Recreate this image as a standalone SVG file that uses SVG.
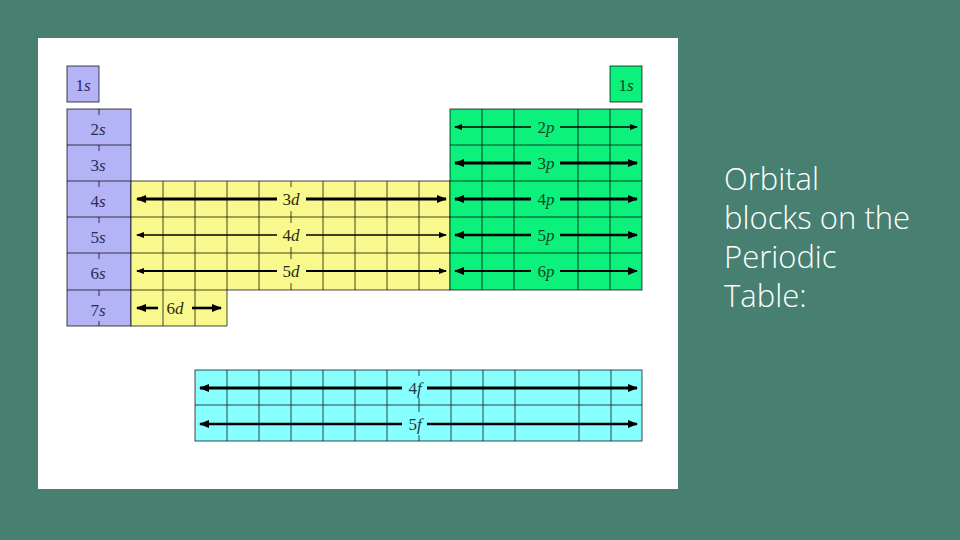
<svg xmlns="http://www.w3.org/2000/svg" width="960" height="540" viewBox="0 0 960 540">
<defs>
<style>
.grid{stroke:#000;stroke-opacity:0.72;stroke-width:1;fill:none}
.ar{stroke:#000;fill:none}
.lbl{font-family:"Liberation Serif",serif;font-size:17px;text-anchor:middle}
.lbl tspan.i{font-style:italic}
.sl{fill:#2c2c5c}
.dl{fill:#2a2a10}
.pl{fill:#0b4a22}
.fl{fill:#1c3a44}
.title{font-family:"Open Sans","Liberation Sans",sans-serif;font-size:31px;fill:#ffffff;font-weight:300}
</style>
<marker id="hb" markerUnits="userSpaceOnUse" markerWidth="10" markerHeight="8" refX="9" refY="4" orient="auto"><path d="M0,0 L10,4 L0,8 z" fill="#000"/></marker>
<marker id="hs" markerUnits="userSpaceOnUse" markerWidth="8" markerHeight="6" refX="7" refY="3" orient="auto"><path d="M0,0 L8,3 L0,6 z" fill="#000"/></marker>
</defs>
<rect x="0" y="0" width="960" height="540" fill="#477F71"/>
<rect x="38" y="38" width="640" height="451" fill="#ffffff"/>

<g id="s-block">
<rect x="67" y="66" width="32" height="36" fill="#B3B3F5"/>
<rect x="67" y="66" width="32" height="36" class="grid"/>
<rect x="67" y="109" width="64" height="217" fill="#B3B3F5"/>
<rect x="67" y="109" width="64" height="217" class="grid"/>
<path class="grid" d="M67 145H131M67 181H131M67 217H131M67 253H131M67 290H131"/>
<path class="grid" d="M99 109v6M99 145v6M99 181v6M99 217v6M99 253v6M99 290v6M99 321v5"/>
<text class="lbl sl" x="83" y="91">1<tspan class="i">s</tspan></text>
<text class="lbl sl" x="98" y="135">2<tspan class="i">s</tspan></text>
<text class="lbl sl" x="98" y="171">3<tspan class="i">s</tspan></text>
<text class="lbl sl" x="98" y="207">4<tspan class="i">s</tspan></text>
<text class="lbl sl" x="98" y="243">5<tspan class="i">s</tspan></text>
<text class="lbl sl" x="98" y="279">6<tspan class="i">s</tspan></text>
<text class="lbl sl" x="98" y="316">7<tspan class="i">s</tspan></text>
</g>

<g id="d-block">
<path d="M131 181H450V290H227V326H131Z" fill="#F8F88C"/>
<path class="grid" d="M131 181H450V290H227V326H131Z"/>
<path class="grid" d="M131 217H450M131 253H450M131 290H227"/>
<path class="grid" d="M163 181V326M195 181V326M227 181V290M259 181V290M323 181V290M355 181V290M387 181V290M419 181V290"/>
<path class="grid" d="M291 181v6M291 211v12M291 247v12M291 283v7"/>
<text class="lbl dl" x="291" y="205">3<tspan class="i">d</tspan></text>
<text class="lbl dl" x="291" y="241">4<tspan class="i">d</tspan></text>
<text class="lbl dl" x="291" y="277">5<tspan class="i">d</tspan></text>
<text class="lbl dl" x="175" y="314">6<tspan class="i">d</tspan></text>
</g>

<g id="p-block">
<rect x="610" y="66" width="32" height="36" fill="#0CF07C"/>
<rect x="610" y="66" width="32" height="36" class="grid"/>
<rect x="450" y="109" width="192" height="181" fill="#0CF07C"/>
<rect x="450" y="109" width="192" height="181" class="grid"/>
<path class="grid" d="M450 145H642M450 181H642M450 217H642M450 253H642"/>
<path class="grid" d="M482 109V290M514 109V290M578 109V290M610 109V290"/>
<text class="lbl pl" x="626" y="91">1<tspan class="i">s</tspan></text>
<text class="lbl pl" x="546" y="133">2<tspan class="i">p</tspan></text>
<text class="lbl pl" x="546" y="169">3<tspan class="i">p</tspan></text>
<text class="lbl pl" x="546" y="205">4<tspan class="i">p</tspan></text>
<text class="lbl pl" x="546" y="241">5<tspan class="i">p</tspan></text>
<text class="lbl pl" x="546" y="277">6<tspan class="i">p</tspan></text>
</g>

<g id="f-block">
<rect x="195" y="370" width="447" height="71" fill="#88FFFF"/>
<rect x="195" y="370" width="447" height="71" class="grid"/>
<path class="grid" d="M195 405H642"/>
<path class="grid" d="M227 370V441M259 370V441M291 370V441M323 370V441M355 370V441M387 370V441M451 370V441M483 370V441M515 370V441M579 370V441M611 370V441"/>
<path class="grid" d="M419 370v6M419 398v14M419 435v6"/>
<text class="lbl fl" x="415" y="394">4<tspan class="i">f</tspan></text>
<text class="lbl fl" x="415" y="430">5<tspan class="i">f</tspan></text>
</g>

<g id="connectors">
<line class="ar" x1="277" y1="199" x2="137" y2="199" stroke-width="3" marker-end="url(#hb)"/>
<line class="ar" x1="306" y1="199" x2="446" y2="199" stroke-width="3" marker-end="url(#hb)"/>
<line class="ar" x1="277" y1="235" x2="137" y2="235" stroke-width="1.4" marker-end="url(#hs)"/>
<line class="ar" x1="306" y1="235" x2="446" y2="235" stroke-width="1.4" marker-end="url(#hs)"/>
<line class="ar" x1="277" y1="271" x2="137" y2="271" stroke-width="1.8" marker-end="url(#hs)"/>
<line class="ar" x1="306" y1="271" x2="446" y2="271" stroke-width="1.8" marker-end="url(#hs)"/>
<line class="ar" x1="158" y1="308" x2="137" y2="308" stroke-width="2.6" marker-end="url(#hb)"/>
<line class="ar" x1="192" y1="308" x2="221" y2="308" stroke-width="2.6" marker-end="url(#hb)"/>
<line class="ar" x1="531" y1="127" x2="455" y2="127" stroke-width="1.3" marker-end="url(#hs)"/>
<line class="ar" x1="560" y1="127" x2="637" y2="127" stroke-width="1.3" marker-end="url(#hs)"/>
<line class="ar" x1="531" y1="163" x2="455" y2="163" stroke-width="3" marker-end="url(#hb)"/>
<line class="ar" x1="560" y1="163" x2="637" y2="163" stroke-width="3" marker-end="url(#hb)"/>
<line class="ar" x1="531" y1="199" x2="455" y2="199" stroke-width="2.8" marker-end="url(#hb)"/>
<line class="ar" x1="560" y1="199" x2="637" y2="199" stroke-width="2.8" marker-end="url(#hb)"/>
<line class="ar" x1="531" y1="235" x2="455" y2="235" stroke-width="2.4" marker-end="url(#hb)"/>
<line class="ar" x1="560" y1="235" x2="637" y2="235" stroke-width="2.4" marker-end="url(#hb)"/>
<line class="ar" x1="531" y1="271" x2="455" y2="271" stroke-width="2.2" marker-end="url(#hb)"/>
<line class="ar" x1="560" y1="271" x2="637" y2="271" stroke-width="2.2" marker-end="url(#hb)"/>
<line class="ar" x1="402" y1="388" x2="200" y2="388" stroke-width="3" marker-end="url(#hb)"/>
<line class="ar" x1="427" y1="388" x2="637" y2="388" stroke-width="3" marker-end="url(#hb)"/>
<line class="ar" x1="402" y1="424" x2="200" y2="424" stroke-width="2.6" marker-end="url(#hb)"/>
<line class="ar" x1="427" y1="424" x2="637" y2="424" stroke-width="2.6" marker-end="url(#hb)"/>
</g>

<g id="title">
<text class="title" x="724" y="190">Orbital</text>
<text class="title" x="724" y="229">blocks on the</text>
<text class="title" x="724" y="268">Periodic</text>
<text class="title" x="724" y="307">Table:</text>
</g>
</svg>
